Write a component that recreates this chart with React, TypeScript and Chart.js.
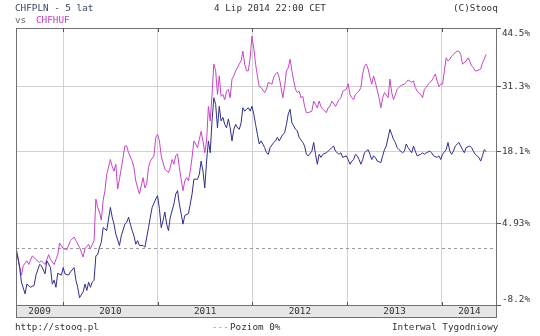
import React, { useEffect, useRef } from "react";
import { Chart, registerables } from "chart.js";

Chart.register(...registerables);

// ---- data -----------------------------------------------------------------
const START_YEAR = 2009.503; // first weekly close, early July 2009
const WEEKS_PER_YEAR = 52.18;
const AXIS_END_WEEK = 265;

const YEARS = [2009, 2010, 2011, 2012, 2013, 2014];
const Y_TICKS = [-8.2, 4.93, 18.1, 31.3, 44.5];
const Y_TICK_LABELS = ["-8.2%", "4.93%", "18.1%", "31.3%", "44.5%"];
const ZERO_LEVEL = 0.8; // "Poziom 0%" reference level (start of both series)

const PLN_WEEKS = [
  0, 2, 3, 5, 6, 8, 10, 11, 13, 14, 16, 17, 19, 20, 21, 22, 23, 25, 26, 27, 29, 30, 32, 33, 34, 35, 37, 38, 39, 40,
  41, 42, 43, 44, 45, 46, 47, 48, 50, 51, 52, 53, 54, 55, 57, 58, 60, 61, 62, 63, 64, 65, 66, 67, 68, 70, 71, 73, 74, 75,
  77, 78, 79, 80, 81, 82, 83, 84, 85, 87, 88, 89, 90, 91, 92, 93, 95, 96, 97, 98, 100, 101, 102, 103, 104, 105, 106, 107, 108, 109,
  110, 111, 112, 113, 114, 115, 116, 117, 118, 119, 120, 121, 122, 123, 124, 125, 126, 127, 128, 129, 130, 131, 132, 133, 134, 135, 136, 137, 138, 139,
  140, 142, 143, 144, 145, 147, 148, 149, 150, 151, 152, 153, 154, 155, 156, 158, 159, 160, 161, 163, 164, 165, 166, 167, 168, 169, 171, 172, 174, 175,
  176, 177, 178, 179, 180, 182, 183, 184, 185, 186, 187, 188, 189, 190, 191, 192, 194, 195, 196, 197, 198, 199, 201, 202, 203, 204, 206, 207, 208, 209,
  210, 211, 213, 214, 215, 216, 218, 219, 220, 221, 223, 224, 225, 226, 228, 229, 230, 232, 233, 234, 235, 237, 238, 239, 240, 241, 242, 244, 245, 246,
  247, 248, 250, 251, 252, 253, 255, 256, 257, 258, 259,
];
const PLN_VALUES = [
  0.8, -2.4, -4.7, -6.5, -5.0, -5.5, -5.2, -3.6, -1.9, -2.1, -3.4, -1.3, -2.4, -5.0, -4.4, -5.5, -3.3, -3.6, -2.4, -3.4, -3.6, -3.1, -2.4, -4.4, -5.5, -7.1, -6.2, -5.0, -6.0, -4.7,
  -5.5, -4.7, -4.4, -0.5, -0.3, 0.9, 1.7, 4.2, 3.7, 5.7, 7.7, 6.0, 4.8, 3.1, 1.2, 2.8, 4.8, 5.1, 6.0, 4.8, 3.7, 2.8, 1.4, 2.0, 1.2, 1.2, 0.9, 4.2, 6.0, 7.7,
  9.2, 9.8, 7.5, 4.2, 5.4, 6.9, 4.8, 3.7, 6.0, 8.3, 10.1, 10.7, 8.3, 6.6, 4.8, 6.3, 6.6, 8.3, 10.1, 12.8, 12.8, 13.7, 16.2, 14.3, 11.2, 16.2, 20.1, 17.8, 24.1, 28.9,
  27.5, 22.7, 27.1, 24.1, 24.8, 23.4, 22.7, 24.5, 22.7, 20.1, 22.4, 23.4, 22.7, 22.4, 23.7, 26.8, 26.1, 26.5, 26.8, 26.1, 27.1, 25.5, 23.4, 21.4, 19.5, 20.1, 19.5, 18.8, 17.8, 17.5,
  18.8, 19.8, 20.1, 20.8, 20.1, 21.4, 21.7, 23.4, 25.5, 26.5, 23.7, 23.1, 22.4, 22.1, 20.8, 19.8, 19.1, 17.5, 17.2, 18.1, 19.8, 17.5, 15.6, 17.5, 16.9, 17.5, 17.8, 18.1, 18.8, 19.1,
  18.1, 17.8, 17.5, 17.8, 16.9, 17.2, 16.5, 15.6, 16.2, 16.5, 17.5, 17.2, 16.5, 15.6, 16.5, 17.8, 18.4, 17.5, 16.5, 17.2, 16.9, 16.2, 15.9, 17.2, 18.4, 19.1, 22.4, 21.4, 20.4, 19.8,
  18.8, 18.4, 17.8, 18.1, 19.5, 18.8, 17.8, 19.1, 18.1, 17.2, 17.5, 17.8, 17.5, 17.8, 18.1, 17.8, 17.2, 16.9, 17.2, 16.5, 17.5, 18.4, 19.8, 18.1, 17.5, 18.1, 19.1, 19.8, 19.1, 18.4,
  17.8, 18.8, 19.1, 18.8, 18.1, 17.5, 16.9, 16.2, 17.2, 18.4, 18.0,
];

const HUF_WEEKS = [
  0, 3, 4, 6, 7, 9, 11, 13, 14, 16, 17, 18, 19, 21, 23, 24, 26, 28, 30, 32, 33, 35, 37, 38, 40, 41, 43, 44, 45, 46,
  47, 48, 49, 50, 52, 53, 54, 55, 56, 57, 59, 60, 61, 62, 64, 65, 66, 67, 68, 70, 71, 72, 73, 74, 76, 77, 78, 79, 80, 81,
  82, 84, 85, 86, 87, 88, 89, 90, 91, 92, 93, 94, 95, 96, 97, 98, 100, 101, 102, 103, 104, 105, 106, 107, 108, 109, 110, 111, 112, 113,
  114, 115, 116, 117, 118, 119, 120, 121, 122, 123, 124, 125, 126, 127, 128, 129, 130, 131, 132, 133, 134, 135, 137, 138, 139, 141, 142, 143, 144, 145,
  146, 147, 148, 149, 150, 151, 152, 153, 154, 155, 156, 157, 158, 159, 160, 161, 163, 164, 165, 166, 167, 168, 169, 171, 172, 173, 174, 176, 177, 178,
  179, 180, 182, 183, 184, 185, 186, 187, 188, 189, 190, 191, 192, 193, 194, 195, 196, 197, 198, 200, 201, 202, 203, 205, 206, 207, 208, 210, 211, 212,
  214, 215, 216, 218, 219, 220, 221, 223, 224, 225, 226, 227, 229, 230, 231, 232, 233, 234, 235, 236, 237, 238, 239, 240, 242, 243, 244, 245, 246, 248,
  249, 250, 251, 252, 253, 254, 256, 257, 258, 259,
];
const HUF_VALUES = [
  0.8, -3.6, -2.1, -1.3, -1.9, -0.5, -1.1, -1.6, -1.3, -1.9, -1.1, -0.3, -1.1, -1.9, -0.3, 1.6, 0.7, 0.5, 2.0, 2.6, 2.0, 0.9, -0.7, 0.7, 1.4, 0.7, 2.0, 9.2, 7.7, 6.9,
  5.5, 8.9, 10.7, 13.7, 16.5, 15.2, 14.3, 15.6, 11.0, 12.8, 16.9, 19.1, 19.1, 17.8, 16.2, 15.0, 12.5, 11.2, 10.1, 13.1, 11.2, 11.9, 15.0, 16.2, 17.2, 20.8, 21.4, 20.1, 17.2, 15.9,
  14.7, 14.0, 15.0, 16.5, 15.6, 17.2, 17.6, 15.0, 12.8, 10.7, 12.5, 13.1, 12.5, 14.3, 16.9, 20.1, 18.8, 20.4, 22.0, 20.1, 17.8, 20.1, 27.1, 24.1, 29.6, 36.2, 34.7, 29.6, 33.6, 29.2,
  29.6, 28.5, 30.3, 30.7, 28.9, 32.9, 33.6, 34.7, 35.4, 36.2, 36.9, 39.1, 36.2, 34.7, 34.7, 37.6, 42.6, 39.8, 36.2, 33.6, 31.3, 31.1, 30.0, 30.7, 32.2, 31.8, 33.3, 34.0, 34.4, 33.3,
  31.1, 28.9, 31.3, 34.7, 35.4, 37.3, 34.7, 32.5, 30.7, 30.0, 30.3, 28.9, 29.2, 27.1, 25.8, 25.8, 26.1, 28.2, 27.5, 26.8, 28.2, 27.1, 26.5, 25.8, 26.8, 27.1, 28.2, 27.1, 27.8, 28.5,
  28.9, 30.3, 30.7, 31.9, 29.6, 28.9, 28.5, 29.6, 30.0, 30.3, 31.1, 34.0, 35.8, 36.2, 35.1, 33.3, 31.8, 33.6, 32.2, 28.9, 26.8, 28.9, 30.0, 28.9, 32.9, 30.0, 28.5, 30.7, 31.1, 31.5,
  31.8, 32.2, 32.7, 32.2, 32.5, 31.1, 30.3, 29.6, 28.9, 30.7, 31.1, 31.8, 32.5, 33.3, 34.0, 32.5, 31.3, 31.8, 31.8, 34.7, 37.6, 36.9, 37.3, 38.0, 38.8, 39.1, 39.1, 38.4, 36.2, 36.9,
  37.6, 36.9, 35.8, 35.4, 34.7, 34.7, 35.1, 36.5, 37.3, 38.4,
];

// ---- styling --------------------------------------------------------------
const FONT = "'DejaVu Sans Mono', 'Liberation Mono', monospace";
const PLN_COLOR = "#2e2e8e";
const HUF_COLOR = "#c844c8";

const toPoints = (weeks: number[], values: number[]) =>
  weeks.map((w, i) => ({ x: START_YEAR + w / WEEKS_PER_YEAR, y: 100 + values[i] }));

const framePlugin = {
  id: "stooqFrame",
  beforeDatasetsDraw(chart: any) {
    const { ctx, chartArea: a, scales } = chart;
    const y0 = Math.round(scales.y.getPixelForValue(100 + ZERO_LEVEL)) + 0.5;
    ctx.save();
    ctx.strokeStyle = "#9a9a9a";
    ctx.lineWidth = 1;
    ctx.setLineDash([3, 3]);
    ctx.beginPath();
    ctx.moveTo(a.left, y0);
    ctx.lineTo(a.right, y0);
    ctx.stroke();
    ctx.restore();
  },
  afterDraw(chart: any) {
    const { ctx, chartArea: a, scales } = chart;
    const x = scales.x;
    const bandTop = a.bottom;
    const bandH = 13;
    ctx.save();
    ctx.fillStyle = "#e6e6e6";
    ctx.fillRect(a.left, bandTop, a.right - a.left, bandH);
    ctx.strokeStyle = "#707070";
    ctx.lineWidth = 1;
    ctx.strokeRect(a.left + 0.5, a.top + 0.5, a.right - a.left - 1, bandTop + bandH - a.top - 1);
    ctx.beginPath();
    ctx.moveTo(a.left, bandTop + 0.5);
    ctx.lineTo(a.right, bandTop + 0.5);
    ctx.stroke();
    ctx.strokeStyle = "#555";
    YEARS.slice(1).forEach((yr) => {
      const px = Math.round(x.getPixelForValue(yr)) + 0.5;
      ctx.beginPath();
      ctx.moveTo(px, a.top);
      ctx.lineTo(px, a.top + 4);
      ctx.moveTo(px, bandTop - 3);
      ctx.lineTo(px, bandTop + 1);
      ctx.stroke();
    });
    ctx.fillStyle = "#333";
    ctx.font = `9.3px ${FONT}`;
    ctx.textAlign = "center";
    ctx.textBaseline = "middle";
    YEARS.forEach((yr) => {
      const s = Math.max(yr, x.min);
      const e = Math.min(yr + 1, x.max);
      if (e <= s) return;
      const cx = (x.getPixelForValue(s) + x.getPixelForValue(e)) / 2;
      ctx.fillText(String(yr), cx, bandTop + 7);
    });
    ctx.restore();
  },
};

const textStyle: React.CSSProperties = {
  position: "absolute",
  fontFamily: FONT,
  fontSize: "9.3px",
  lineHeight: "11px",
  whiteSpace: "pre",
  color: "#333",
};

export default function App() {
  const canvasRef = useRef<HTMLCanvasElement | null>(null);

  useEffect(() => {
    const canvas = canvasRef.current;
    if (!canvas) return;
    const chart = new Chart(canvas, {
      type: "line",
      data: {
        datasets: [
          {
            label: "CHFPLN",
            data: toPoints(PLN_WEEKS, PLN_VALUES),
            borderColor: PLN_COLOR,
            borderWidth: 1,
            pointRadius: 0,
            tension: 0,
          },
          {
            label: "CHFHUF",
            data: toPoints(HUF_WEEKS, HUF_VALUES),
            borderColor: HUF_COLOR,
            borderWidth: 1,
            pointRadius: 0,
            tension: 0,
          },
        ],
      },
      options: {
        animation: false,
        responsive: false,
        maintainAspectRatio: false,
        layout: { padding: { left: 16, top: 28, right: 0, bottom: 31 } },
        plugins: { legend: { display: false }, tooltip: { enabled: false }, title: { display: false } },
        scales: {
          x: {
            type: "linear",
            min: START_YEAR,
            max: START_YEAR + AXIS_END_WEEK / WEEKS_PER_YEAR,
            afterBuildTicks: (s: any) => {
              s.ticks = YEARS.slice(1).map((v) => ({ value: v }));
            },
            afterFit: (s: any) => {
              s.height = 0;
            },
            ticks: { display: false },
            grid: { color: "#d2d2d2", drawTicks: false },
            border: { display: false },
          },
          y: {
            type: "logarithmic",
            position: "right",
            min: 100 + Y_TICKS[0],
            max: 100 + Y_TICKS[Y_TICKS.length - 1],
            afterBuildTicks: (s: any) => {
              s.ticks = Y_TICKS.map((v) => ({ value: 100 + v }));
            },
            afterFit: (s: any) => {
              s.width = 43;
            },
            ticks: {
              autoSkip: false,
              padding: 1,
              color: "#333",
              font: { family: FONT, size: 9.3, lineHeight: 1.2 },
              callback: (_v: any, i: number) => {
                const label = Y_TICK_LABELS[i];
                if (i === 0) return [label, ""];
                if (i === Y_TICK_LABELS.length - 1) return ["", label];
                return label;
              },
            },
            grid: { color: "#d2d2d2", tickColor: "#555", tickLength: 4 },
            border: { display: false },
          },
        },
      },
      plugins: [framePlugin],
    });
    return () => chart.destroy();
  }, []);

  return (
    <div style={{ position: "fixed", left: 0, top: 0, width: 540, height: 336, background: "#fff" }}>
      <canvas ref={canvasRef} width={540} height={336} style={{ position: "absolute", left: 0, top: 0 }} />
      <span style={{ ...textStyle, left: 15, top: 2, color: "#3a4466" }}>CHFPLN - 5 lat</span>
      <span style={{ ...textStyle, left: 15, top: 14, color: "#666" }}>vs</span>
      <span style={{ ...textStyle, left: 36, top: 14, color: "#c03cc0" }}>CHFHUF</span>
      <span style={{ ...textStyle, left: 214, top: 2 }}>4 Lip 2014 22:00 CET</span>
      <span style={{ ...textStyle, left: 453, top: 2 }}>(C)Stooq</span>
      <span style={{ ...textStyle, left: 15, top: 321 }}>http://stooq.pl</span>
      <span style={{ ...textStyle, left: 212, top: 321, color: "#999" }}>---</span>
      <span style={{ ...textStyle, left: 230, top: 321 }}>Poziom 0%</span>
      <span style={{ ...textStyle, left: 392, top: 321 }}>Interwal Tygodniowy</span>
    </div>
  );
}
